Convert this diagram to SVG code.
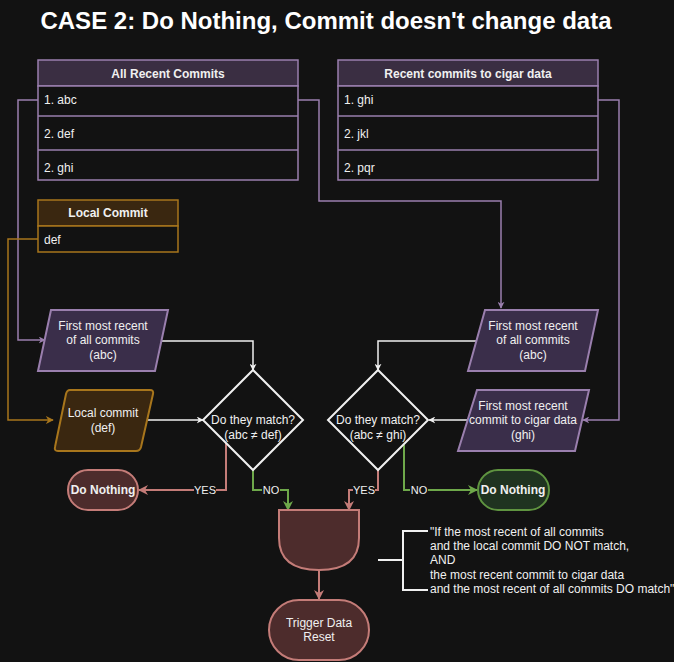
<svg xmlns="http://www.w3.org/2000/svg" width="674" height="662" viewBox="0 0 674 662">
<defs>
<style>
text{font-family:"Liberation Sans",Arial,sans-serif;fill:#f0f0f0;font-size:12px}
.t{text-anchor:middle}
.b{font-weight:bold}
.pu{stroke:#9a7fae;stroke-width:1.5}
.br{stroke:#a8761c;stroke-width:1.5}
.rd{stroke:#c47c78;stroke-width:2}
.gr{stroke:#6ea84a;stroke-width:2}
.wh{stroke:#f0f0f0;stroke-width:1.5}
.lbl{font-size:11px;text-anchor:middle}
</style>
<marker id="aPu" viewBox="0 0 10 10" refX="9" refY="5" markerWidth="7" markerHeight="7" orient="auto" markerUnits="userSpaceOnUse"><path d="M0,0 L10,5 L0,10 L3,5 Z" fill="#9a7fae"/></marker>
<marker id="aBr" viewBox="0 0 10 10" refX="9" refY="5" markerWidth="8" markerHeight="8" orient="auto" markerUnits="userSpaceOnUse"><path d="M0,0 L10,5 L0,10 L3,5 Z" fill="#a8761c"/></marker>
<marker id="aWh" viewBox="0 0 10 10" refX="9" refY="5" markerWidth="7" markerHeight="7" orient="auto" markerUnits="userSpaceOnUse"><path d="M0,0 L10,5 L0,10 L3,5 Z" fill="#f0f0f0"/></marker>
<marker id="aRd" viewBox="0 0 10 10" refX="9" refY="5" markerWidth="10" markerHeight="10" orient="auto" markerUnits="userSpaceOnUse"><path d="M0,0 L10,5 L0,10 L3,5 Z" fill="#c47c78"/></marker>
<marker id="aGr" viewBox="0 0 10 10" refX="9" refY="5" markerWidth="10" markerHeight="10" orient="auto" markerUnits="userSpaceOnUse"><path d="M0,0 L10,5 L0,10 L3,5 Z" fill="#6ea84a"/></marker>
</defs>
<rect width="674" height="662" fill="#121212"/>
<text x="326" y="29" class="t b" style="font-size:24px;fill:#ffffff">CASE 2: Do Nothing, Commit doesn't change data</text>

<g id="connectors" fill="none">
<path class="pu" d="M38,100 H18 V340 H45" marker-end="url(#aPu)"/>
<path class="br" d="M38,239 H8 V420 H53" marker-end="url(#aBr)"/>
<path class="pu" d="M298,100 H319 V201 H501 V308" marker-end="url(#aPu)"/>
<path class="pu" d="M598,100 H619 V420 H583" marker-end="url(#aPu)"/>
<path class="wh" d="M162,341 H253 V370" marker-end="url(#aWh)"/>
<path class="wh" d="M147,420 H203" marker-end="url(#aWh)"/>
<path class="wh" d="M476,341 H378 V370" marker-end="url(#aWh)"/>
<path class="wh" d="M467,420 H429" marker-end="url(#aWh)"/>
<path class="rd" d="M226,443 V490 H139" marker-end="url(#aRd)"/>
<path class="gr" d="M253,470 V490 H288 V510" marker-end="url(#aGr)"/>
<path class="rd" d="M378,470 V490 H349 V510" marker-end="url(#aRd)"/>
<path class="gr" d="M404,445 V490 H477" marker-end="url(#aGr)"/>
<path class="rd" d="M319,570 V599" marker-end="url(#aRd)"/>
<rect x="194" y="484" width="22" height="12" fill="#121212"/>
<text x="205" y="494" class="lbl">YES</text>
<rect x="262" y="484" width="18" height="12" fill="#121212"/>
<text x="271" y="494" class="lbl">NO</text>
<rect x="353" y="484" width="22" height="12" fill="#121212"/>
<text x="364" y="494" class="lbl">YES</text>
<rect x="410" y="484" width="18" height="12" fill="#121212"/>
<text x="419" y="494" class="lbl">NO</text>
</g>

<g id="all-recent-commits">
<rect x="38" y="60" width="260" height="26" fill="#3a2e42" class="pu"/>
<rect x="38" y="86" width="260" height="94" fill="#121212" class="pu"/>
<line x1="38" y1="116" x2="298" y2="116" class="pu"/>
<line x1="38" y1="150" x2="298" y2="150" class="pu"/>
<text x="168" y="78" class="t b">All Recent Commits</text>
<text x="44" y="104">1. abc</text>
<text x="44" y="138">2. def</text>
<text x="44" y="172">2. ghi</text>
</g>

<g id="cigar-commits">
<rect x="338" y="60" width="260" height="26" fill="#3a2e42" class="pu"/>
<rect x="338" y="86" width="260" height="94" fill="#121212" class="pu"/>
<line x1="338" y1="116" x2="598" y2="116" class="pu"/>
<line x1="338" y1="150" x2="598" y2="150" class="pu"/>
<text x="468" y="78" class="t b">Recent commits to cigar data</text>
<text x="344" y="104">1. ghi</text>
<text x="344" y="138">2. jkl</text>
<text x="344" y="172">2. pqr</text>
</g>

<g id="local-commit">
<rect x="38" y="200" width="140" height="26" fill="#3a2710" class="br"/>
<rect x="38" y="226" width="140" height="26" fill="#121212" class="br"/>
<text x="108" y="217" class="t b">Local Commit</text>
<text x="44" y="244">def</text>
</g>

<g id="first-all-left">
<polygon points="51,310 168,310 155,371 38,371" fill="#3a2e4a" stroke="#9a7fae" stroke-width="2"/>
<text class="t" x="103" y="330">First most recent</text>
<text class="t" x="103" y="344">of all commits</text>
<text class="t" x="103" y="359">(abc)</text>
</g>

<g id="local-commit-io">
<path d="M70,390 H150 Q154,390 153,394 L141,447 Q140,451 136,451 H58 Q54,451 55,447 L66,394 Q67,390 70,390 Z" fill="#3a2710" stroke="#a8761c" stroke-width="2"/>
<text class="t" x="103" y="417">Local commit</text>
<text class="t" x="103" y="432">(def)</text>
</g>

<g id="match-left">
<polygon points="253,370 303,420 253,470 203,420" fill="#121212" stroke="#f0f0f0" stroke-width="2"/>
<text class="t" x="253" y="424">Do they match?</text>
<text class="t" x="253" y="439">(abc ≠ def)</text>
</g>

<g id="match-right">
<polygon points="378,370 428,420 378,470 328,420" fill="#121212" stroke="#f0f0f0" stroke-width="2"/>
<text class="t" x="378" y="424">Do they match?</text>
<text class="t" x="378" y="439">(abc ≠ ghi)</text>
</g>

<g id="first-all-right">
<polygon points="485,310 598,310 585,371 468,371" fill="#3a2e4a" stroke="#9a7fae" stroke-width="2"/>
<text class="t" x="533" y="330">First most recent</text>
<text class="t" x="533" y="344">of all commits</text>
<text class="t" x="533" y="359">(abc)</text>
</g>

<g id="first-cigar-right">
<polygon points="477,390 589,390 575,451 458,451" fill="#3a2e4a" stroke="#9a7fae" stroke-width="2"/>
<text class="t" x="523" y="410">First most recent</text>
<text class="t" x="523" y="424">commit to cigar data</text>
<text class="t" x="523" y="439">(ghi)</text>
</g>

<g id="do-nothing-left">
<rect x="68" y="470" width="70" height="40" rx="20" fill="#4d2c2c" stroke="#c47c78" stroke-width="2"/>
<text class="t b" x="103" y="494">Do Nothing</text>
</g>

<g id="do-nothing-right">
<rect x="478" y="470" width="71" height="40" rx="20" fill="#1f3320" stroke="#5f9440" stroke-width="2"/>
<text class="t b" x="513" y="494">Do Nothing</text>
</g>

<g id="and-gate">
<path d="M279,510 H359 V538 Q359,570 319,570 Q279,570 279,538 Z" fill="#4d2c2c" stroke="#c47c78" stroke-width="2"/>
</g>

<g id="trigger-reset">
<rect x="269" y="600" width="100" height="60" rx="30" fill="#4d2c2c" stroke="#c47c78" stroke-width="2"/>
<text class="t" x="319" y="627">Trigger Data</text>
<text class="t" x="319" y="641">Reset</text>
</g>

<g id="annotation">
<path d="M378,560 H403 M428,531 H403 V590 H428" fill="none" stroke="#f0f0f0" stroke-width="2"/>
<text x="430" y="536">"If the most recent of all commits</text>
<text x="430" y="550">and the local commit DO NOT match,</text>
<text x="430" y="564">AND</text>
<text x="430" y="579">the most recent commit to cigar data</text>
<text x="430" y="593">and the most recent of all commits DO match"</text>
</g>
</svg>
